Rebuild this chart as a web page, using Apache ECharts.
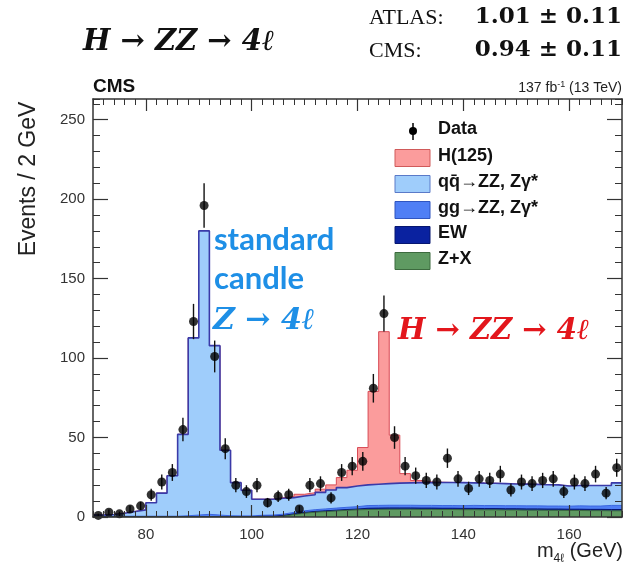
<!DOCTYPE html>
<html><head><meta charset="utf-8">
<script src="https://cdn.jsdelivr.net/npm/echarts@6/dist/echarts.min.js"></script>
<style>html,body{margin:0;padding:0;background:#fff}#c{width:629px;height:571px}</style>
</head><body><div id="c"></div>
<script>
// ---- data (bin centres in GeV, 2 GeV bins) ----
const binCenters = [71,73,75,77,79,81,83,85,87,89,91,93,95,97,99,101,103,105,107,109,111,113,115,117,119,121,123,125,127,129,131,133,135,137,139,141,143,145,147,149,151,153,155,157,159,161,163,165,167,169];
const dataCounts = [1,3,2,5,7,14,22,28,55,123,196,101,43,20,16,20,9,13,14,5,20,21,12,28,32,35,81,128,50,32,26,23,22,37,24,18,24,23,27,17,22,21,23,24,16,22,21,27,15,31];
const dataErrors = [1,1.7,1.4,2.2,2.6,3.7,4.7,5.3,7.4,11.1,14,10,6.6,4.5,4,4.5,3,3.6,3.7,2.2,4.5,4.6,3.5,5.3,5.7,5.9,9,11.3,7.1,5.7,5.1,4.8,4.7,6.1,4.9,4.2,4.9,4.8,5.2,4.1,4.7,4.6,4.8,4.9,4,4.7,4.6,5.2,3.9,5.6];
const zx = [0,0,0,0,0,0,0,0,0,0,0,0,0,0,0,0,0,0.5,1.5,2.4,3,3.4,3.8,4.2,4.5,4.7,4.8,4.9,4.9,4.9,4.8,4.8,4.7,4.7,4.6,4.6,4.5,4.5,4.4,4.4,4.3,4.3,4.2,4.2,4.1,4.1,4.0,4.0,3.9,3.9];
const ew = [0.2,0.2,0.2,0.2,0.2,0.2,0.2,0.2,0.2,0.2,0.2,0.2,0.2,0.2,0.2,0.5,0.5,0.5,0.5,0.5,0.5,0.5,0.5,0.5,0.5,0.8,0.8,0.8,0.8,0.8,0.8,0.8,0.8,0.8,0.8,0.8,0.8,0.8,0.8,0.8,0.8,0.8,0.8,0.8,0.8,0.8,0.8,0.8,0.8,0.8];
const ggZZ = [0.3,0.3,0.3,0.3,0.3,0.3,0.3,0.3,0.6,1,1.5,1,0.6,0.5,0.5,0.6,0.7,0.8,0.9,1,1.1,1.2,1.3,1.4,1.5,1.7,1.7,1.7,1.7,1.7,1.7,1.7,1.7,1.7,1.7,1.9,1.9,1.9,1.9,1.9,1.9,1.9,1.9,1.9,1.9,2.1,2.1,2.1,2.6,2.6];
const qqZZ = [0.7,1.1,1.9,3.0,4.0,8.5,14.5,25.5,51.2,111.5,178.3,106.6,41.2,20.9,16.1,10.1,10.0,10.0,9.3,9.3,9.4,10.4,11.4,12.4,13.0,13.0,13.3,13.6,13.9,14.1,14.3,14.3,14.5,14.5,14.5,14.2,14.1,14.0,13.9,13.7,13.7,13.5,13.4,13.3,12.7,12.8,12.9,12.9,12.5,14.2];
const higgs = [0,0,0,0,0,0,0,0,0,0,0,0,0,0,0,0,0,0.4,0.7,1.1,1.3,2,3.2,6.3,9.9,23.5,58.4,95.6,30.2,5.8,1.4,0.5,0.2,0,0,0,0,0,0,0,0,0,0,0,0,0,0,0,0,0];
const xTicks = [80,100,120,140,160];
const yTicks = [0,50,100,150,200,250];
const halfBin = 1;

// stacked tops (bottom -> top): Z+X, EW, gg, qq, H
const layers = [zx, ew, ggZZ, qqZZ, higgs];
const cumTops = [];
layers.forEach((arr, k)=>{ cumTops.push(arr.map((v,i)=> v + (k ? cumTops[k-1][i] : 0))); });

function toStep(vals){
  const pts = binCenters.map((c,i)=>[c-halfBin, vals[i]]);
  pts.push([binCenters[binCenters.length-1]+halfBin, vals[vals.length-1]]);
  return pts;
}
const FS = 'Liberation Sans';
const axisCol = '#333';
function xAx(pos, major){
  return {type:'value', min:70, max:170, position:pos, gridIndex:0,
    interval: major ? undefined : 2,
    axisLine:{show:major, onZero:false, lineStyle:{color:axisCol, width:1.5}},
    axisTick:major?{show:true, inside:true, length:12, customValues:xTicks, lineStyle:{color:axisCol,width:1.2}}
                  :{show:true, inside:true, length:6, lineStyle:{color:axisCol,width:1}},
    axisLabel:(major && pos==='bottom')?{show:true, customValues:xTicks, margin:10, fontFamily:FS, fontSize:15, color:'#333'}:{show:false},
    splitLine:{show:false}, z:10};
}
function yAx(pos, major){
  return {type:'value', min:0, max:263, position:pos, gridIndex:0,
    interval: major ? undefined : 10,
    axisLine:{show:major, onZero:false, lineStyle:{color:axisCol, width:1.5}},
    axisTick:major?{show:true, inside:true, length:15, customValues:yTicks, lineStyle:{color:axisCol,width:1.2}}
                  :{show:true, inside:true, length:7, lineStyle:{color:axisCol,width:1}},
    axisLabel:(major && pos==='left')?{show:true, customValues:yTicks, margin:8, fontFamily:FS, fontSize:15, color:'#333'}:{show:false},
    splitLine:{show:false}, z:10};
}
function mc(name, tops, fill, line, lw, z){
  return {type:'line', name:name, step:'end', data:toStep(tops), symbol:'none',
    xAxisIndex:0, yAxisIndex:0,
    lineStyle:{color:line, width:lw},
    areaStyle:{color:fill, opacity:1, origin:'start'}, itemStyle:{color:fill}, z:z, silent:true};
}
const legendRows = [
  {name:'H(125)', fill:'#fb9c9c', stroke:'#d05a5a', y:158},
  {name:'qq\u0304\u2192ZZ, Z\u03b3*', fill:'#9fcdfb', stroke:'#5a7ac8', y:184},
  {name:'gg\u2192ZZ, Z\u03b3*', fill:'#4f7ff5', stroke:'#2f55c0', y:210},
  {name:'EW', fill:'#0a22a0', stroke:'#061670', y:235},
  {name:'Z+X', fill:'#5f9a62', stroke:'#3c6a3e', y:261}
];
const graphics = [
  {type:'text', left:83, top:28, style:{text:'H \u2192 ZZ \u2192 4\u2113', font:'italic bold 29px "DejaVu Serif"', fill:'#111'}},
  {type:'text', left:369, top:7, style:{text:'ATLAS:', font:'22px "Liberation Serif"', fill:'#111'}},
  {type:'text', right:7, top:6, style:{text:'1.01 \u00b1 0.11', font:'bold 23px "DejaVu Serif"', fill:'#111'}},
  {type:'text', left:369, top:40, style:{text:'CMS:', font:'22px "Liberation Serif"', fill:'#111'}},
  {type:'text', right:7, top:39, style:{text:'0.94 \u00b1 0.11', font:'bold 23px "DejaVu Serif"', fill:'#111'}},
  {type:'text', left:93, top:77, style:{text:'CMS', font:'bold 19px "Liberation Sans"', fill:'#111'}},
  {type:'text', right:7, top:80, style:{text:'{a|137 fb}{s|-1}{a| (13 TeV)}', rich:{a:{font:'14px "Liberation Sans"', fill:'#222', lineHeight:16}, s:{font:'9px "Liberation Sans"', fill:'#222', verticalAlign:'top', lineHeight:16}}}},
  {type:'text', x:29, y:179, rotation:Math.PI/2, style:{text:'Events / 2 GeV', font:'23px "Liberation Sans"', fill:'#222', align:'center', verticalAlign:'middle'}},
  {type:'text', right:6, top:541, style:{text:'{a|m}{s|4\u2113}{a| (GeV)}', rich:{a:{font:'20px "Liberation Sans"', fill:'#222', lineHeight:24, verticalAlign:'top'}, s:{font:'12px "Liberation Sans"', fill:'#222', verticalAlign:'bottom', lineHeight:24}}}},
  {type:'text', left:214, top:224, style:{text:'standard', font:'bold 31px Lato', fill:'#1e8fe6'}},
  {type:'text', left:214, top:263, style:{text:'candle', font:'bold 31px Lato', fill:'#1e8fe6'}},
  {type:'text', left:213, top:306, style:{text:'Z \u2192 4\u2113', font:'italic bold 30px "DejaVu Serif"', fill:'#1e8fe6'}},
  {type:'text', left:398, top:317, style:{text:'H \u2192 ZZ \u2192 4\u2113', font:'italic bold 29px "DejaVu Serif"', fill:'#e3161c'}},
  // legend
  {type:'line', shape:{x1:413, y1:123, x2:413, y2:140}, style:{stroke:'#000', lineWidth:1.5}},
  {type:'circle', shape:{cx:413, cy:131, r:4}, style:{fill:'#000'}},
  {type:'text', left:438, top:120, style:{text:'Data', font:'bold 18px "Liberation Sans"', fill:'#111'}}
];
legendRows.forEach(r=>{
  graphics.push({type:'rect', shape:{x:395, y:r.y-8.5, width:35, height:17}, style:{fill:r.fill, stroke:r.stroke, lineWidth:1}});
  graphics.push({type:'text', left:438, top:r.y-11, style:{text:r.name, font:'bold 18px "Liberation Sans"', fill:'#111'}});
});

const chart = echarts.init(document.getElementById('c'), null, {renderer:'canvas'});
chart.setOption({
  animation:false,
  backgroundColor:'#fff',
  grid:{left:93, right:7, top:99, bottom:54, containLabel:false},
  xAxis:[xAx('bottom',true), xAx('bottom',false), xAx('top',true), xAx('top',false)],
  yAxis:[yAx('left',true), yAx('left',false), yAx('right',true), yAx('right',false)],
  series:[
    mc('H(125)', cumTops[4], '#fb9c9c', '#d84a55', 1, 1),
    mc('qq\u0304\u2192ZZ, Z\u03b3*', cumTops[3], '#9fcdfb', '#3a3aa8', 1.6, 2),
    mc('gg\u2192ZZ, Z\u03b3*', cumTops[2], '#4f7ff5', '#3a66e0', 1, 3),
    mc('EW', cumTops[1], '#0a22a0', '#061670', 1, 4),
    mc('Z+X', cumTops[0], '#5f9a62', '#3c6a3e', 1, 5),
    {type:'custom', name:'Data errors', xAxisIndex:0, yAxisIndex:0, z:6, silent:true,
      data: binCenters.map((c,i)=>[c, dataCounts[i], dataErrors[i]]),
      renderItem:function(params, api){
        const x = api.value(0), y = api.value(1), e = api.value(2);
        const p1 = api.coord([x, y-e]), p2 = api.coord([x, y+e]);
        return {type:'line', shape:{x1:p1[0], y1:p1[1], x2:p2[0], y2:p2[1]}, style:{stroke:'#111', lineWidth:1.4}};
      }},
    {type:'scatter', name:'Data', xAxisIndex:0, yAxisIndex:0, z:7, silent:true,
      data: binCenters.map((c,i)=>[c, dataCounts[i]]),
      symbol:'circle', symbolSize:9, itemStyle:{color:'#000'}}
  ],
  graphic: graphics
});
</script></body></html>
